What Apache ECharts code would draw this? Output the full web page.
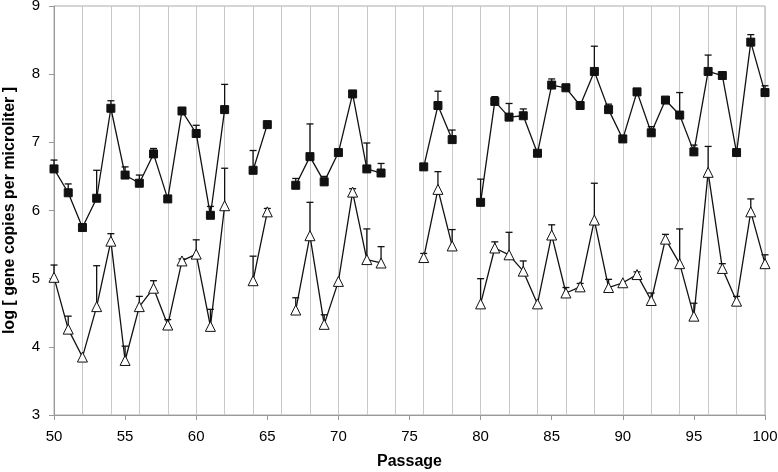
<!DOCTYPE html>
<html>
<head>
<meta charset="utf-8">
<script src="https://cdn.jsdelivr.net/npm/echarts@6/dist/echarts.min.js"></script>
<style>
html,body{margin:0;padding:0;background:#fff;}
#chart{width:778px;height:472px;}
</style>
</head>
<body>
<div id="chart"></div>
<script>
// passage numbers 50..100
const passages = [50,51,52,53,54,55,56,57,58,59,60,61,62,63,64,65,66,67,68,69,70,71,72,73,74,75,
  76,77,78,79,80,81,82,83,84,85,86,87,88,89,90,91,92,93,94,95,96,97,98,99,100];

// filled squares
const squareVals = [6.61,6.26,5.75,6.18,7.50,6.52,6.40,6.83,6.17,7.46,7.13,5.93,7.48,null,6.59,7.26,null,
  6.37,6.79,6.42,6.85,7.71,6.61,6.55,null,null,6.64,7.54,7.04,null,6.12,7.60,7.37,7.39,6.84,7.84,7.80,
  7.54,8.04,7.48,7.05,7.74,7.14,7.62,7.40,6.86,8.04,7.98,6.85,8.47,7.73];
const squareErrTop = [6.74,6.39,null,6.59,7.61,6.64,6.52,6.91,null,null,7.25,6.06,7.85,null,6.88,null,null,
  6.47,7.27,6.50,null,null,6.99,6.69,null,null,null,7.75,7.18,null,6.46,7.67,7.57,7.49,null,7.93,7.85,
  null,8.41,7.56,null,null,7.23,null,7.73,6.96,8.28,null,6.90,8.58,7.83];

// open triangles
const triVals = [5.02,4.26,3.85,4.59,5.55,3.80,4.59,4.86,4.32,5.26,5.36,4.30,6.07,null,4.97,5.98,null,
  4.54,5.63,4.33,4.96,6.27,5.28,5.23,null,null,5.31,6.31,5.48,null,4.63,5.45,5.35,5.11,4.63,5.64,4.79,
  4.88,5.86,4.87,4.94,5.06,4.68,5.58,5.22,4.45,6.56,5.15,4.67,5.98,5.22];
const triErrTop = [5.20,4.45,null,5.19,5.66,4.01,4.74,4.97,4.40,5.29,5.57,4.55,6.62,null,5.33,6.03,null,
  4.72,6.12,4.47,null,6.32,5.73,5.47,null,null,5.37,6.57,5.72,null,5.00,5.54,5.68,5.26,null,5.79,4.87,
  4.93,6.40,4.99,null,5.10,4.79,5.65,5.73,4.64,6.94,5.22,4.74,6.17,5.35];

const xTickLabels = [50,55,60,65,70,75,80,85,90,95,100];
const yTickLabels = [3,4,5,6,7,8,9];

const font = 'Liberation Sans, Arial, sans-serif';

function lineData(vals){
  return passages.map((p,i) => [p, vals[i] == null ? '-' : vals[i]]);
}
function errData(vals, tops){
  const out = [];
  passages.forEach((p,i) => {
    if (vals[i] != null && tops[i] != null) out.push([p, vals[i], tops[i]]);
  });
  return out;
}
function renderErr(params, api){
  const base = api.coord([api.value(0), api.value(1)]);
  const top = api.coord([api.value(0), api.value(2)]);
  const cap = 3.5;
  return {
    type: 'group',
    children: [
      {type:'line', shape:{x1:base[0], y1:base[1], x2:top[0], y2:top[1]}, style:{stroke:'#111', lineWidth:1.3}},
      {type:'line', shape:{x1:top[0]-cap, y1:top[1], x2:top[0]+cap, y2:top[1]}, style:{stroke:'#111', lineWidth:1.3}}
    ]
  };
}

const chart = echarts.init(document.getElementById('chart'));
const option = {
  animation: false,
  grid: {left: 54, right: 13, top: 6, bottom: 57, show: true, borderColor: '#aaa', borderWidth: 1,
    outerBoundsMode: 'none', containLabel: false},
  xAxis: [
    {
      type: 'value', min: 50, max: 100, interval: 5,
      name: 'Passage', nameLocation: 'middle', nameGap: 39,
      nameTextStyle: {fontFamily: font, fontWeight: 'bold', fontSize: 16, color: '#000'},
      axisLine: {lineStyle: {color: '#999'}},
      axisTick: {show: true, length: 5, lineStyle: {color: '#999'}},
      axisLabel: {fontFamily: font, fontSize: 15, color: '#000', margin: 14,
        formatter: v => xTickLabels.includes(v) ? String(v) : ''},
      splitLine: {show: false}
    },
    {
      type: 'value', min: 50, max: 100, interval: 2, position: 'bottom',
      axisLine: {show: false}, axisTick: {show: false}, axisLabel: {show: false},
      splitLine: {show: true, lineStyle: {color: '#c8c8c8', width: 1}}
    }
  ],
  yAxis: {
    type: 'value', min: 3, max: 9, interval: 1,
    name: 'log [ gene copies per microliter ]', nameLocation: 'middle', nameGap: 36,
    nameTextStyle: {fontFamily: font, fontWeight: 'bold', fontSize: 16, color: '#000'},
    axisLine: {show: true, lineStyle: {color: '#999'}},
    axisTick: {show: true, length: 5, lineStyle: {color: '#999'}},
    axisLabel: {fontFamily: font, fontSize: 15, color: '#000', margin: 14,
      formatter: v => yTickLabels.includes(v) ? String(v) : ''},
    splitLine: {show: false}
  },
  series: [
    {
      type: 'custom', name: 'square err', renderItem: renderErr,
      data: errData(squareVals, squareErrTop), encode: {x: 0, y: [1, 2]}, z: 2, silent: true
    },
    {
      type: 'custom', name: 'triangle err', renderItem: renderErr,
      data: errData(triVals, triErrTop), encode: {x: 0, y: [1, 2]}, z: 2, silent: true
    },
    {
      type: 'line', name: 'squares', data: lineData(squareVals), connectNulls: false,
      symbol: 'rect', symbolSize: 8, showAllSymbol: true,
      lineStyle: {color: '#111', width: 1.3},
      itemStyle: {color: '#111', borderColor: '#111', borderWidth: 1}, z: 3
    },
    {
      type: 'line', name: 'triangles', data: lineData(triVals), connectNulls: false,
      symbol: 'triangle', symbolSize: 10, showAllSymbol: true,
      lineStyle: {color: '#111', width: 1.3},
      itemStyle: {color: '#fff', borderColor: '#111', borderWidth: 1}, z: 3
    }
  ]
};
chart.setOption(option);
</script>
</body>
</html>
